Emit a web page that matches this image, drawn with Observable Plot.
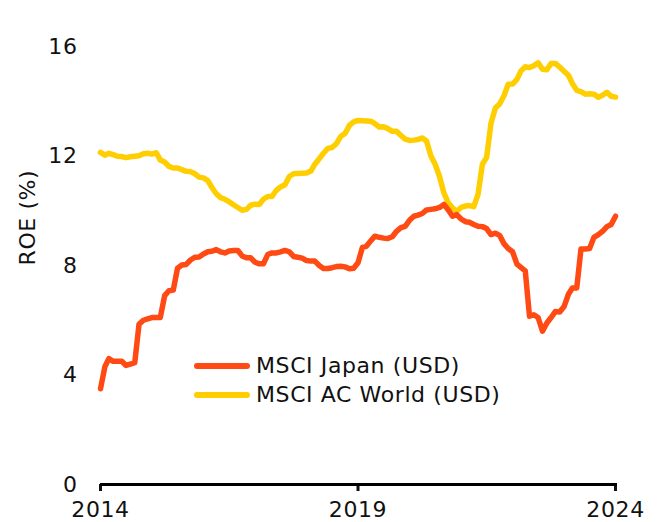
<!DOCTYPE html>
<html>
<head>
<meta charset="utf-8">
<script src="https://cdn.jsdelivr.net/npm/d3@7"></script>
<script src="https://cdn.jsdelivr.net/npm/@observablehq/plot@0.6"></script>
<style>
  html, body { margin: 0; padding: 0; background: #fff; }
  #wrap { position: relative; width: 663px; height: 522px; font-family: "DejaVu Sans", sans-serif; }
  #wrap svg text { letter-spacing: 0.6px; }
  #legend { position: absolute; left: 194px; top: 351px; font-size: 22px; letter-spacing: 0.6px; color: #111; }
  .row { display: flex; align-items: center; height: 29px; }
  .sw { width: 56px; height: 6px; border-radius: 3px; margin-right: 6px; }
</style>
</head>
<body>
<div id="wrap"><div id="legend"></div></div>
<script>
// Monthly observations, Jan 2014 .. Jan 2024
const startMonth = "2014-01-01";
const endMonth = "2024-01-01";
const seriesNames = ["MSCI Japan (USD)", "MSCI AC World (USD)"];
const seriesColors = ["#FF4A14", "#FFCE00"];
const japan = [
  3.5, 4.3, 4.6, 4.5, 4.5, 4.5, 4.35, 4.4, 4.45, 5.85, 6.0, 6.05,
  6.1, 6.1, 6.1, 6.9, 7.08, 7.1, 7.9, 8.02, 8.04, 8.2, 8.3, 8.31,
  8.42, 8.5, 8.52, 8.58, 8.5, 8.46, 8.53, 8.55, 8.55, 8.35, 8.28, 8.28,
  8.12, 8.06, 8.06, 8.4, 8.46, 8.46, 8.5, 8.55, 8.5, 8.33, 8.3, 8.27,
  8.18, 8.16, 8.16, 8.0, 7.89, 7.89, 7.92, 7.96, 7.97, 7.95, 7.88, 7.9,
  8.1, 8.66, 8.7, 8.9, 9.07, 9.03, 9.0, 8.99, 9.05, 9.25, 9.38, 9.43,
  9.65, 9.8, 9.84, 9.9, 10.03, 10.05, 10.07, 10.12, 10.23, 10.04, 9.8, 9.86,
  9.7, 9.6, 9.58, 9.5, 9.43, 9.42, 9.35, 9.13, 9.18, 9.1, 8.8, 8.62,
  8.5, 8.05, 7.93, 7.8, 6.15, 6.2, 6.1, 5.6, 5.9, 6.1, 6.32, 6.3,
  6.5, 6.95, 7.18, 7.18, 8.6, 8.6, 8.62, 9.03, 9.13, 9.25, 9.42, 9.5,
  9.8
];
const world = [
  12.13, 12.03, 12.1, 12.05, 11.99, 11.98, 11.94, 11.97, 11.99, 12.01, 12.08, 12.1,
  12.07, 12.12, 11.85, 11.78, 11.62, 11.56, 11.56, 11.5, 11.44, 11.43, 11.35, 11.23,
  11.2, 11.1, 10.85, 10.62, 10.48, 10.42, 10.33, 10.22, 10.12, 10.02, 10.05, 10.2,
  10.24, 10.23, 10.42, 10.52, 10.52, 10.75, 10.87, 10.95, 11.25, 11.35, 11.36, 11.37,
  11.38, 11.45, 11.7, 11.9, 12.1, 12.28, 12.31, 12.45, 12.72, 12.82, 13.12, 13.25,
  13.3, 13.29, 13.28, 13.27, 13.18, 13.06, 13.07, 13.0, 12.9, 12.9, 12.75, 12.62,
  12.57, 12.58, 12.6, 12.66, 12.55, 12.0, 11.7, 11.25, 10.65, 10.3, 10.1, 9.98,
  10.12, 10.17, 10.19, 10.15, 10.6, 11.7, 11.95, 13.2, 13.75, 13.9, 14.2, 14.62,
  14.63, 14.8, 15.1, 15.26, 15.23, 15.3, 15.4, 15.17, 15.15, 15.38, 15.38, 15.25,
  15.1, 14.95, 14.65, 14.4, 14.35, 14.26, 14.27, 14.26, 14.15, 14.22, 14.33, 14.18,
  14.15
];
const yTicks = [0, 4, 8, 12, 16];
const xTickYears = [2014, 2019, 2024];

const months = d3.utcMonth.range(new Date(startMonth), d3.utcMonth.offset(new Date(endMonth), 1));
const rows = [];
[japan, world].forEach((vals, s) => {
  vals.forEach((v, i) => rows.push({date: months[i], value: v, series: seriesNames[s]}));
});

const font = "DejaVu Sans, sans-serif";
const chart = Plot.plot({
  width: 663,
  height: 522,
  marginLeft: 100,
  marginRight: 46,
  marginTop: 46,
  marginBottom: 38,
  style: {fontFamily: font, fontSize: "22px", color: "#111", background: "#fff"},
  x: {type: "utc", domain: [new Date(startMonth), d3.utcDay.offset(new Date(endMonth), 14)]},
  y: {domain: [0, 16]},
  color: {domain: seriesNames, range: seriesColors},
  marks: [
    Plot.axisY({ticks: yTicks, tickSize: 0, tickPadding: 23, fontSize: 22, label: null}),
    Plot.axisX({ticks: xTickYears.map(y => new Date(Date.UTC(y, 0, 1))), tickFormat: d3.utcFormat("%Y"),
      tickSize: 7, tickPadding: 10, strokeWidth: 3, fontSize: 22, label: null}),
    Plot.ruleY([0], {stroke: "#000", strokeWidth: 3}),
    Plot.text(["ROE (%)"], {frameAnchor: "left", rotate: -90, dx: -73, fontSize: 22, fill: "#111"}),
    Plot.lineY(rows.filter(d => d.series === seriesNames[1]), {x: "date", y: "value", stroke: "series", strokeWidth: 5.5, strokeLinejoin: "round", strokeLinecap: "round"}),
    Plot.lineY(rows.filter(d => d.series === seriesNames[0]), {x: "date", y: "value", stroke: "series", strokeWidth: 5.5, strokeLinejoin: "round", strokeLinecap: "round"})
  ]
});
const wrap = document.getElementById("wrap");
wrap.insertBefore(chart, wrap.firstChild);

const legend = document.getElementById("legend");
seriesNames.forEach((name, i) => {
  const row = document.createElement("div");
  row.className = "row";
  const sw = document.createElement("span");
  sw.className = "sw";
  sw.style.background = seriesColors[i];
  const t = document.createElement("span");
  t.textContent = name;
  row.appendChild(sw);
  row.appendChild(t);
  legend.appendChild(row);
});
</script>
</body>
</html>
